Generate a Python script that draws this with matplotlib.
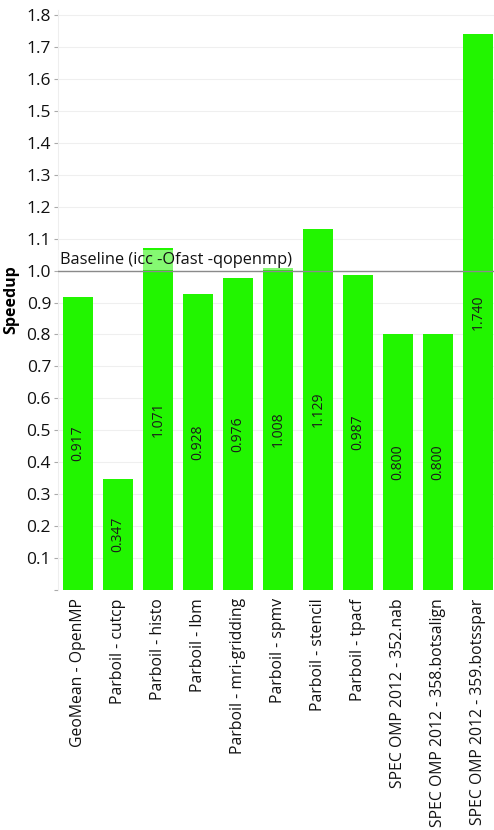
import numpy as np
import matplotlib
matplotlib.use("Agg")
import matplotlib.pyplot as plt

plt.rcParams['font.family'] = ['Open Sans', 'DejaVu Sans']

benchmarks = ['GeoMean - OpenMP', 'Parboil - cutcp', 'Parboil - histo', 'Parboil - lbm',
              'Parboil - mri-gridding', 'Parboil - spmv', 'Parboil - stencil', 'Parboil - tpacf',
              'SPEC OMP 2012 - 352.nab', 'SPEC OMP 2012 - 358.botsalign',
              'SPEC OMP 2012 - 359.botsspar']
speedup = [0.917, 0.347, 1.071, 0.928, 0.976, 1.008, 1.129, 0.987, 0.800, 0.800, 1.740]
yticks = [0.1 * i for i in range(19)]
ytick_labels = [''] + ['%.1f' % t for t in yticks[1:]]

fig = plt.figure(figsize=(4.94, 8.30), dpi=100)
ax = fig.add_axes([58 / 494, 240 / 830, 1 - 58 / 494, 580 / 830])

x = np.arange(len(benchmarks))
ax.bar(x, speedup, width=0.76, color='#22f500', zorder=2)

for xi, v in zip(x, speedup):
    ax.text(xi, v / 2, '%.3f' % v, rotation=90, ha='center', va='center',
            fontsize=10, color='#1a1a1a', zorder=4)

ax.axhline(1.0, color='#8a8a8a', lw=1, zorder=3)
ax.text(-0.45, 1.008, 'Baseline (icc -Ofast -qopenmp)', fontsize=11.8, color='#111111',
        ha='left', va='bottom', zorder=4,
        bbox=dict(facecolor='white', alpha=0.45, edgecolor='none', pad=1.5))

ax.set_xlim(-0.5, 10.4)
ax.set_ylim(0, 1.8157)
ax.set_yticks(yticks)
ax.set_yticklabels(ytick_labels, fontsize=12.5, color='#111111')
ax.set_xticks(x)
ax.set_xticklabels(benchmarks, rotation=90, fontsize=11.3, color='#111111')
ax.tick_params(axis='x', length=0, pad=6)
ax.tick_params(axis='y', length=3, color='#aaaaaa', pad=2)
ax.grid(axis='y', color='#efefef', lw=0.8, zorder=0)
ax.set_ylabel('Speedup', fontsize=11.5, fontweight='bold', labelpad=5)
for s in ['top', 'right', 'bottom']:
    ax.spines[s].set_visible(False)
ax.spines['left'].set_color('#eeeeee')

fig.savefig('out.png', dpi=100)
